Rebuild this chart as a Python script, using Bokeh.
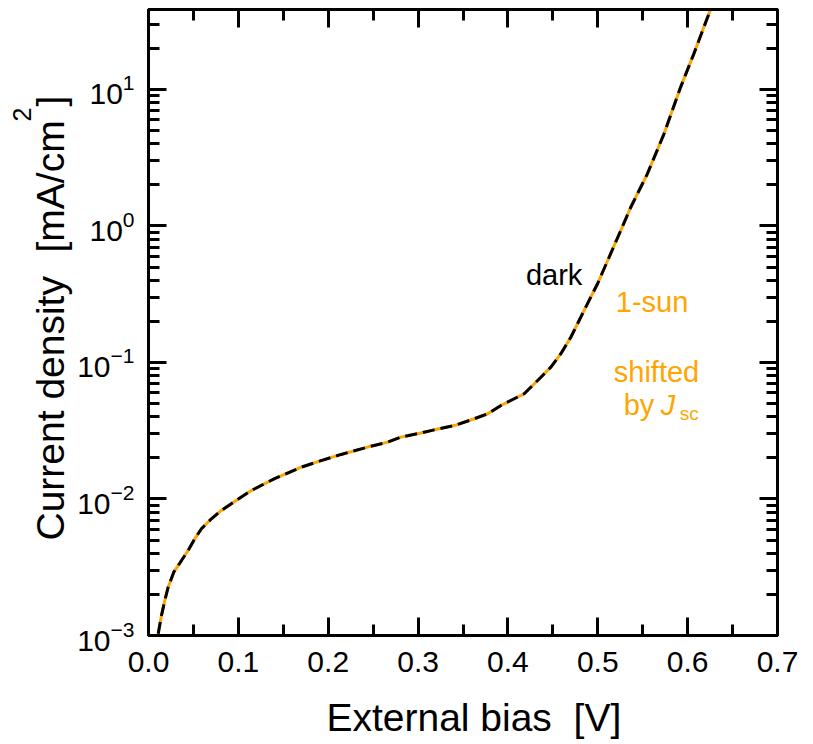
import math
from bokeh.plotting import figure
from bokeh.layouts import row
from bokeh.models import (Range1d, LinearAxis, LogAxis, FixedTicker, LogTicker,
                          NumeralTickFormatter, CustomJSTickFormatter, Label)
from bokeh.embed import file_html
from bokeh.resources import INLINE

# ---- data ----
bias_v = [0.0108, 0.0144, 0.0181, 0.0219, 0.0281, 0.0367, 0.0441, 0.0514, 0.0589, 0.070,
          0.0811, 0.100, 0.1144, 0.1404, 0.170, 0.192, 0.2144, 0.244, 0.2663, 0.281,
          0.303, 0.318, 0.3404, 0.3626, 0.3774, 0.3922, 0.4181, 0.4367, 0.4478, 0.4589,
          0.470, 0.4811, 0.4922, 0.4997, 0.5126, 0.5256, 0.5367, 0.5552, 0.5737, 0.5922,
          0.607, 0.6237, 0.630]
current_density = [1.03e-3, 1.40e-3, 1.80e-3, 2.26e-3, 2.91e-3, 3.54e-3, 4.2e-3, 5.1e-3, 6.05e-3, 7.16e-3,
                   8.24e-3, 1.0e-2, 1.153e-2, 1.41e-2, 1.71e-2, 1.91e-2, 2.12e-2, 2.40e-2, 2.61e-2, 2.84e-2,
                   3.04e-2, 3.21e-2, 3.45e-2, 3.87e-2, 4.21e-2, 4.84e-2, 5.90e-2, 7.80e-2, 9.24e-2, 0.116,
                   0.153, 0.215, 0.301, 0.377, 0.59, 0.927, 1.37, 2.41, 4.73, 10.4,
                   18.3, 35.9, 46.0]
x_ticks = [0.0, 0.1, 0.2, 0.3, 0.4, 0.5, 0.6, 0.7]
x_minor_ticks = [0.05, 0.15, 0.25, 0.35, 0.45, 0.55, 0.65]
x_range = (0.0, 0.7)
y_range = (1e-3, 38.5)
x_title = "\u00a0\u00a0External bias\u00a0\u00a0[V]"

FONT = "Liberation Sans"
ORANGE = "#FFA500"
LEFT_W = 74
TOP_B = 9
BOTTOM_B = 109
YLAB_DX = -12  # measured rendering offset of rotated labels

# ---------- narrow strip holding the y-axis title (frame aligned with main plot) ----------
lf = figure(width=LEFT_W, height=744, x_range=Range1d(0, LEFT_W),
            y_range=Range1d(744 - BOTTOM_B, TOP_B),
            x_axis_location=None, y_axis_location=None, output_backend="svg",
            toolbar_location=None, min_border_left=0, min_border_right=0,
            min_border_top=TOP_B, min_border_bottom=BOTTOM_B)
lf.xgrid.visible = False
lf.ygrid.visible = False
lf.outline_line_color = None


def ylab(text, cx, cy, size):
    lf.add_layout(Label(x=cx + YLAB_DX, y=cy, text=text, text_font=FONT, text_font_size=size,
                        text_color="black", angle=math.pi / 2, text_align="left",
                        text_baseline="alphabetic"))


ylab("Current density", 62, 540, "39px")
ylab("[mA/cm", 62, 252, "39px")
ylab("2", 33, 121, "25px")
ylab("]", 62, 106, "39px")

# ---------- main plot ----------
p = figure(width=813 - LEFT_W, height=744, y_axis_type="log",
           x_range=Range1d(*x_range), y_range=Range1d(*y_range),
           output_backend="svg", toolbar_location=None,
           min_border_left=147 - LEFT_W, min_border_right=36,
           min_border_top=TOP_B, min_border_bottom=BOTTOM_B)
p.xgrid.visible = False
p.ygrid.visible = False
p.outline_line_color = "black"
p.outline_line_width = 3

p.add_layout(LinearAxis(), "above")
p.add_layout(LogAxis(), "right")


def style(ax, labels=True):
    ax.axis_line_width = 3
    ax.axis_line_color = "black"
    ax.major_tick_line_width = 3
    ax.minor_tick_line_width = 3
    ax.major_tick_line_color = "black"
    ax.minor_tick_line_color = "black"
    ax.major_tick_in = 18
    ax.major_tick_out = 0
    ax.minor_tick_in = 11
    ax.minor_tick_out = 0
    ax.major_label_text_font = FONT
    ax.major_label_text_color = "black"
    if labels:
        ax.major_label_text_font_size = "30px"
        ax.major_label_standoff = 14
    else:
        ax.formatter = CustomJSTickFormatter(code="return '';")
        ax.major_label_text_font_size = "1px"
        ax.major_label_standoff = 0


for ax in p.below + p.above:
    ax.ticker = FixedTicker(ticks=x_ticks, minor_ticks=x_minor_ticks)
    ax.formatter = NumeralTickFormatter(format="0.0")
for ax in p.left + p.right:
    ax.ticker = LogTicker(num_minor_ticks=10)

style(p.below[0])
style(p.left[0])
style(p.above[0], labels=False)
style(p.right[0], labels=False)
p.below[0].major_label_standoff = 16

xa = p.below[0]
xa.axis_label = x_title
xa.axis_label_text_font = FONT
xa.axis_label_text_font_size = "39px"
xa.axis_label_text_font_style = "normal"
xa.axis_label_text_color = "black"
xa.axis_label_standoff = 21

# curve: orange solid underneath, black dashed on top
p.line(bias_v, current_density, line_color=ORANGE, line_width=3)
p.line(bias_v, current_density, line_color="black", line_width=3, line_dash="12 6")


# helpers to place in-plot labels by canvas pixel (frame: x 147..777, y log axis)
def vx(cx):
    return (cx - 147) / 900.0


def vy(cy):
    return 10 ** ((635 - cy) / 136.5 - 3)


def add_text(text, cx, cy, size, color="black", style="normal"):
    p.add_layout(Label(x=vx(cx), y=vy(cy), text=text, text_font=FONT, text_font_size=size,
                       text_color=color, text_align="left",
                       text_baseline="alphabetic", text_font_style=style))


add_text("dark", 525, 275, "29px")
add_text("1-sun", 615, 302, "29px", ORANGE)
add_text("shifted", 613, 372, "29px", ORANGE)
add_text("by", 623, 405, "29px", ORANGE)
add_text("J", 660, 405, "29px", ORANGE, style="italic")
add_text("sc", 679, 413, "19px", ORANGE)

layout = row(lf, p, spacing=0)
open("out.html", "w").write(file_html(layout, INLINE))
